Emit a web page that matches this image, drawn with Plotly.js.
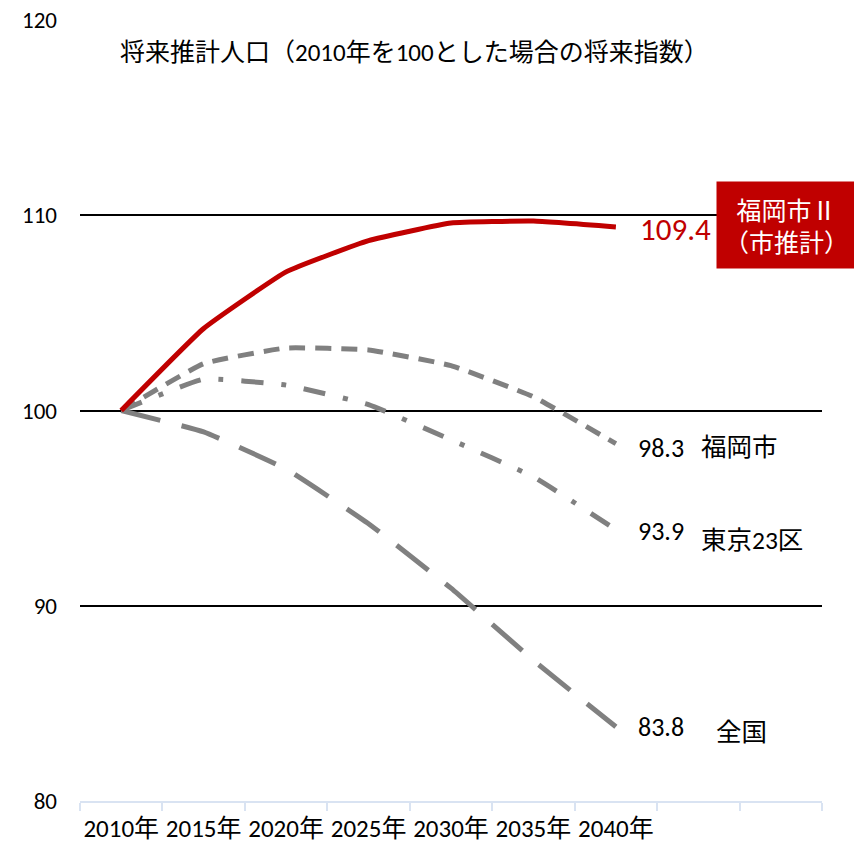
<!DOCTYPE html>
<html><head><meta charset="utf-8">
<script src="https://cdn.plot.ly/plotly-3.0.1.min.js"></script>
<style>body{margin:0;background:#fff}#c{width:854px;height:847px}</style>
</head><body><div id="c"></div>
<script>
const categories = ["2010年","2015年","2020年","2025年","2030年","2035年","2040年"," ","  "];
const years = ["2010年","2015年","2020年","2025年","2030年","2035年","2040年"];
const fukuokaII = [100, 104.2, 107.1, 108.7, 109.6, 109.7, 109.4];
const fukuoka   = [100, 102.4, 103.2, 103.1, 102.3, 100.7, 98.3];
const tokyo23   = [100, 101.6, 101.3, 100.3, 98.5, 96.6, 93.9];
const zenkoku   = [100, 98.9, 97.0, 94.2, 90.9, 87.2, 83.8];
const yTicks = [80, 90, 100, 110, 120];

const FONT = "Carlito, 'Noto Sans CJK JP', sans-serif";
const gray = "#808080";
function tr(y, color, dash){
  return {x: years, y: y, type: "scatter", mode: "lines",
    line: {color: color, width: 5, dash: dash, shape: "spline", smoothing: 0.35},
    hoverinfo: "skip", showlegend: false};
}
const data = [
  tr(zenkoku, gray, "40px,22px"),
  tr(tokyo23, gray, "22px,18px,5px,18px"),
  tr(fukuoka, gray, "16px,10px"),
  tr(fukuokaII, "#c00000", "solid")
];
const px = p => (p - 80) / 742;
function lab(text, x, y, color, size){
  return {text: text, xref: "paper", yref: "y", x: px(x), y: y, showarrow: false,
    xanchor: "center", yanchor: "middle", font: {family: FONT, size: size || 26, color: color || "#000"}};
}
const layout = {
  width: 854, height: 847,
  margin: {l: 80, r: 32, t: 20, b: 46},
  paper_bgcolor: "#fff", plot_bgcolor: "#fff",
  font: {family: FONT, color: "#000"},
  xaxis: {type: "category", categoryorder: "array", categoryarray: categories,
    range: [-0.5, 8.5], tickson: "boundaries", ticks: "outside", ticklen: 8,
    tickcolor: "#d9e3f2", tickwidth: 2, showline: true, linecolor: "#d9e3f2", linewidth: 2,
    showgrid: false, zeroline: false, tickangle: 0, ticklabelstandoff: 4,
    tickfont: {family: FONT, size: 25}, fixedrange: true},
  yaxis: {range: [80, 120], tickvals: yTicks, ticktext: yTicks.map(String),
    showgrid: true, gridcolor: "#000", gridwidth: 2, zeroline: false, showline: false,
    ticks: "", ticklabelstandoff: 22, tickfont: {family: FONT, size: 23}, fixedrange: true},
  annotations: [
    {text: "将来推計人口（2010年を100とした場合の将来指数）", xref: "paper", yref: "y",
     x: px(118), y: 118.35, xanchor: "left", yanchor: "middle", showarrow: false,
     font: {family: FONT, size: 25, color: "#000"}},
    lab("109.4", 675, 109.3, "#c00000", 31),
    {text: "福岡市<span style=\"font-family:'Noto Sans CJK JP'\">Ⅱ</span><br>（市推計）", xref: "paper", yref: "y", x: px(786), y: 109.5,
     xanchor: "center", yanchor: "middle", showarrow: false, bgcolor: "#c00000",
     width: 137, height: 84, font: {family: FONT, size: 25, color: "#fff"}},
    lab("98.3", 661, 98.1),
    lab("福岡市", 739, 98.1, "#000", 25.5),
    lab("93.9", 661, 93.85),
    lab("東京23区", 752, 93.33, "#000", 25.5),
    lab("83.8", 661, 83.8),
    lab("全国", 741, 83.5, "#000", 25.5)
  ]
};
Plotly.newPlot("c", data, layout, {displayModeBar: false, staticPlot: true});
</script></body></html>
